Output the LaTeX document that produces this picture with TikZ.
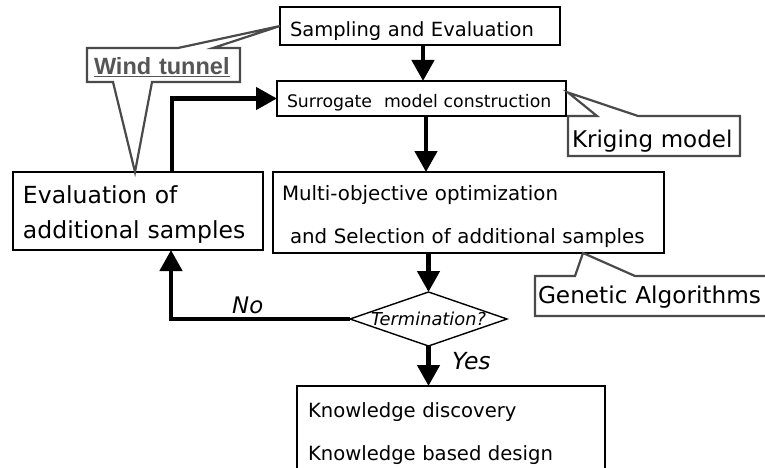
\documentclass[tikz,border=0pt]{standalone}
\usepackage{fontspec}
\setmainfont{DejaVu Sans}
\newfontfamily\windfont{Liberation Sans}
\usetikzlibrary{arrows.meta,shapes.geometric,calc}
\definecolor{callgray}{HTML}{4A4A4A}
\definecolor{windgray}{HTML}{555555}
\newcommand{\fs}[2]{\fontsize{#1pt}{#2pt}\selectfont}
\begin{document}
\begin{tikzpicture}[x=1pt,y=-1pt,
  box/.style={draw=black, line width=1.4pt, anchor=north west, inner ysep=0pt, outer sep=0pt, align=left},
  callbox/.style={draw=none, anchor=north west, inner ysep=0pt, outer sep=0pt, align=left},
  flow/.style={line width=4.5pt, -{Triangle[width=22pt,length=21pt]}},
  callline/.style={draw=callgray, line width=2.2pt, line join=miter},
  lab/.style={anchor=base west, inner sep=0pt},
]
\path[use as bounding box, fill=white] (0,0) rectangle (765,468);

% main boxes
\node[box, inner xsep=10pt, text width=260pt, text height=30pt, text depth=8pt, font=\fs{19.5}{24}] (samp) at (280,7) {Sampling and Evaluation};
\node[box, inner xsep=10pt, text width=269pt, text height=27pt, text depth=8pt, font=\fs{17.3}{22}] (surr) at (277,81) {Surrogate\hspace{12pt}model construction};
\node[box, inner xsep=9pt, text width=373pt, text height=28pt, text depth=53pt, font=\fs{19.8}{43}] (multi) at (273,172) {Multi-objective optimization\\\hspace*{8pt}and Selection of additional samples};
\node[box, inner xsep=10pt, text width=230pt, text height=31pt, text depth=47pt, font=\fs{23.5}{35}] (eval) at (13,172) {Evaluation of\\additional samples};
\node[box, inner xsep=11pt, text width=286pt, text height=31pt, text depth=53pt, font=\fs{19.6}{43}] (know) at (297,386) {Knowledge discovery\\Knowledge based design};
\node[draw=black, line width=1.4pt, diamond, minimum width=157pt, minimum height=54pt, inner sep=0pt, outer sep=0pt,
  label={[name=term, inner sep=0pt, font=\fs{17.8}{20}\itshape]center:Termination?}] (dia) at (428.5,319) {};

% callout boxes
\node[callbox, inner xsep=7pt, text width=139pt, text height=27pt, text depth=7pt, font=\windfont\bfseries\fs{23.5}{26}] (wind) at (87,48) {\textcolor{windgray}{\underline{Wind tunnel}}};
\node[callbox, inner xsep=4pt, text width=164pt, text height=31pt, text depth=9pt, font=\fs{23}{26}] (krig) at (568,116) {Kriging model};
\node[callbox, inner xsep=3pt, text width=259pt, text height=27pt, text depth=13pt, font=\fs{23.2}{27}] (gen) at (535,276) {Genetic Algorithms};

% callout outlines
\draw[callline] (wind.north west) -- (178,48) -- (samp.west) -- (213,48) -- (wind.north east) -- (wind.south east)
  -- (152,82) -- ([xshift=-3pt]eval.north) -- (113,82) -- (wind.south west) -- cycle;
\draw[callline] (krig.north west) -- (597,116) -- ([shift={(2,-6)}]surr.east) -- (638,116) -- (krig.north east)
  -- (krig.south east) -- (krig.south west) -- cycle;
\draw[callline] (gen.north west) -- (575,276) -- ([xshift=-81pt]multi.south east) -- (635,276) -- (gen.north east)
  -- (gen.south east) -- (gen.south west) -- cycle;

% flow arrows
\draw[flow] ([xshift=3pt]samp.south) -- ([xshift=3pt]samp.south |- surr.north);
\draw[flow] ([xshift=4.5pt]surr.south) -- ([xshift=4.5pt]surr.south |- multi.north);
\draw[flow] (dia.north |- multi.south) -- (dia.north);
\draw[flow] (dia.south) -- (dia.south |- know.north);
\draw[flow] (dia.west) -| ([xshift=33pt]eval.south);
\draw[flow] ([xshift=34pt]eval.north) |- (surr.west);

% labels
\node[lab, font=\fs{22.8}{26}\itshape] (no) at (232,313) {No};
\node[lab, font=\fs{23.5}{26}\itshape] (yes) at (452,369) {Yes};
\end{tikzpicture}
\end{document}
